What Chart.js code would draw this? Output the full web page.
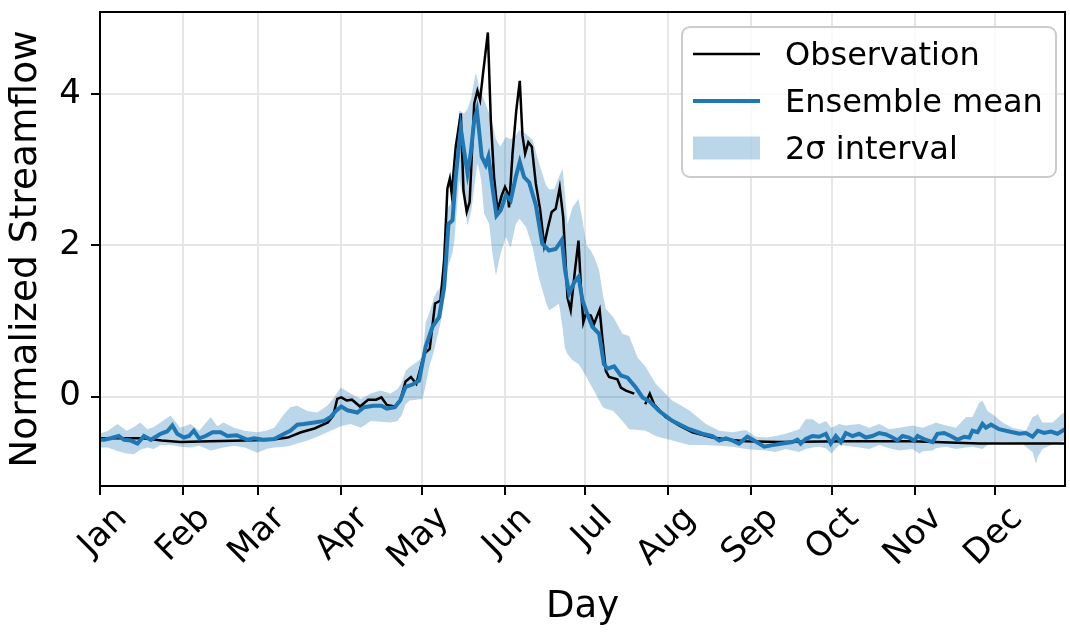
<!DOCTYPE html>
<html>
<head>
<meta charset="utf-8">
<script src="https://cdn.jsdelivr.net/npm/chart.js@4.4.1/dist/chart.umd.min.js"></script>
<style>
  html, body { margin: 0; padding: 0; background: #fff; }
</style>
</head>
<body>
<canvas id="flowChart" width="1070" height="632"></canvas>
<script>
// month ticks (day of year where each month starts)
const monthStarts = [0, 31, 59, 90, 120, 151, 181, 212, 243, 273, 304, 334];
const monthLabels = ["Jan", "Feb", "Mar", "Apr", "May", "Jun", "Jul", "Aug", "Sep", "Oct", "Nov", "Dec"];
const yTicks = [0, 2, 4];
const legendLabels = ["Observation", "Ensemble mean", "2σ interval"];

// observed streamflow (null = missing day)
const obsDay = [
  0, 10, 16, 23, 30, 41, 54, 64, 70, 75,
  80, 85, 87, 88.5, 90, 92, 94, 97, 100, 103,
  105, 107, 110, 112, 114, 116, 118, 121, 123, 125,
  127, 128.4, 129.6, 130.5, 131.2, 132.7, 134.6, 135.6, 136.8, 137.9,
  139.6, 140.8, 141.8, 142.9, 144.7, 145.8, 147, 148.3, 149.9, 151.1,
  152, 152.6, 153.9, 155.3, 156.6, 157.6, 158.6, 159.8, 161.1, 162.6,
  164.2, 165.7, 166.9, 168.5, 170, 171.5, 172.8, 174.4, 175.6, 177.2,
  178.5, 179.4, 180.3, 181.2, 183.1, 184.3, 186.4, 187.4, 188.7, 189.9,
  193, 194.3, 196.2, 199.3, 201, 203.4, 205.1, 206.7, 211, 216,
  221, 228.5, 234.7, 241, 253, 278, 303, 328, 360
];
const obsVal = [
  -0.55, -0.55, -0.55, -0.58, -0.60, -0.59, -0.58, -0.57, -0.54, -0.47,
  -0.42, -0.34, -0.25, -0.03, -0.01, -0.05, -0.04, -0.13, -0.04, -0.04,
  -0.01, -0.11, -0.13, -0.05, 0.20, 0.26, 0.17, 0.57, 0.63, 1.23,
  1.27, 1.80, 2.75, 2.88, 2.68, 3.30, 3.74, 2.72, 2.44, 2.57,
  3.87, 4.04, 3.92, 4.27, 4.81, 3.65, 2.90, 2.46, 2.66, 2.77,
  2.70, 2.50, 3.21, 3.78, 4.17, 3.45, 3.21, 3.36, 3.30, 2.81,
  2.47, 2.00, 2.20, 2.44, 2.48, 2.76, 2.37, 1.31, 1.14, 1.67,
  2.06, 1.45, 0.98, 1.09, 1.07, 0.96, 1.15, 0.78, 0.34, 0.26,
  0.23, 0.12, 0.08, 0.04, null, -0.10, 0.04, -0.10, -0.27, -0.38,
  -0.47, -0.54, -0.57, -0.59, -0.60, -0.59, -0.59, -0.62, -0.62
];

// ensemble mean
const meanDay = [
  0, 1.5, 4, 7, 9, 11.5, 14, 16.4, 19, 22.6,
  25, 27, 28.8, 31.3, 33.2, 35, 37, 39.4, 42, 45,
  47.5, 51, 55, 57.5, 61, 65, 68.7, 71, 73.6, 76,
  80, 83.6, 86, 88, 90, 92.3, 96, 98.5, 102, 105,
  107, 110, 112, 114, 116.6, 119, 121.5, 124, 126.5, 128.4,
  130, 131.5, 132.7, 134.6, 135.8, 137.1, 138.3, 139.6, 140.6, 141.4,
  142.4, 143.9, 144.9, 146.4, 147.9, 149.5, 151.4, 153.2, 155.1, 156.6,
  158.2, 160.1, 162.6, 165, 167.5, 170, 172.3, 173.5, 175, 176.9,
  178.5, 180, 181.8, 183.7, 186.2, 188, 189.3, 191.8, 194.3, 196.8,
  199.9, 202.4, 204.9, 208.6, 213.5, 219.8, 224.7, 228.5, 231, 233.5,
  236, 238.4, 241.5, 244, 247.8, 250.9, 254.6, 258.3, 260.2, 261.4,
  263.3, 265.8, 268.3, 270.8, 272.6, 274.5, 276.4, 278.2, 280.7, 283.2,
  285.7, 288.1, 290.7, 293.2, 295.6, 297.5, 299.4, 301.8, 303.7, 305,
  307.4, 310.6, 312.4, 314.9, 317.4, 319.9, 322.4, 324.3, 325.5, 327.4,
  329.2, 330.5, 332.4, 335.4, 339.2, 342.9, 345.4, 347.9, 349.8, 352.2,
  354.7, 357.2, 360
];
const meanVal = [
  -0.57, -0.57, -0.55, -0.52, -0.57, -0.58, -0.62, -0.52, -0.57, -0.49,
  -0.46, -0.38, -0.49, -0.54, -0.52, -0.45, -0.55, -0.52, -0.47, -0.47,
  -0.52, -0.51, -0.57, -0.55, -0.57, -0.56, -0.49, -0.45, -0.37, -0.36,
  -0.34, -0.32, -0.27, -0.19, -0.13, -0.18, -0.21, -0.14, -0.12, -0.12,
  -0.16, -0.14, -0.05, 0.13, 0.16, 0.21, 0.66, 0.92, 1.05, 1.45,
  2.28, 2.33, 2.90, 3.54, 3.25, 2.95, 3.21, 3.65, 3.78, 3.52,
  3.17, 3.06, 3.17, 2.77, 2.39, 2.46, 2.66, 2.59, 2.90, 3.10,
  2.90, 2.83, 2.53, 2.02, 1.93, 1.95, 2.07, 1.67, 1.36, 1.51,
  1.58, 1.27, 1.09, 0.92, 0.83, 0.43, 0.37, 0.40, 0.28, 0.25,
  0.12, -0.01, -0.06, -0.19, -0.32, -0.43, -0.49, -0.52, -0.58, -0.55,
  -0.58, -0.62, -0.53, -0.58, -0.66, -0.64, -0.62, -0.60, -0.57, -0.62,
  -0.56, -0.52, -0.53, -0.49, -0.62, -0.52, -0.60, -0.48, -0.52, -0.49,
  -0.54, -0.52, -0.48, -0.50, -0.54, -0.58, -0.52, -0.54, -0.58, -0.52,
  -0.56, -0.60, -0.49, -0.48, -0.52, -0.57, -0.53, -0.54, -0.45, -0.47,
  -0.36, -0.41, -0.37, -0.43, -0.46, -0.49, -0.48, -0.53, -0.45, -0.48,
  -0.46, -0.49, -0.43
];

// 2 sigma band
const bandDay = [
  0, 3, 6.5, 10, 12.7, 15, 17.7, 20, 22.6, 26.3,
  30, 33.8, 37, 41.3, 43.8, 46, 50, 54, 58.7, 62,
  65, 68.7, 71, 73.6, 77.4, 81, 84.8, 87.3, 89.8, 93.5,
  97.3, 101, 104.7, 108.4, 111, 112.5, 114, 115.5, 118, 120.3,
  121.5, 122.8, 124.6, 125.5, 127.2, 129, 129.8, 131.5, 132.2, 134,
  135.8, 137.1, 138.5, 140.1, 140.8, 141.4, 142.2, 143.3, 145.2, 146.4,
  147.7, 149.3, 151.4, 153.2, 155.1, 156.5, 158.9, 161.4, 163.5, 166.3,
  167.5, 169.4, 171.2, 172.6, 173.4, 174.4, 176.3, 178.5, 180, 181.5,
  183.1, 184.3, 186.2, 187.6, 188.7, 191.5, 194.9, 197.4, 200.5, 203.6,
  207.3, 213.5, 219.8, 226, 231, 236, 241, 244.6, 248.4, 252.1,
  255.8, 260.8, 263.3, 265.8, 268.3, 270.8, 272.8, 275.8, 278.2, 283.2,
  287, 290.7, 294.4, 298.2, 303.1, 305.6, 306.9, 310.6, 311.8, 315.6,
  319.3, 323.1, 325.5, 328, 329.2, 331.1, 333.6, 336.7, 340.4, 344.1,
  345.4, 347.9, 349.2, 349.8, 351.6, 355.4, 358.5, 360
];
const bandUpper = [
  -0.49, -0.45, -0.36, -0.45, -0.40, -0.34, -0.43, -0.40, -0.34, -0.25,
  -0.41, -0.36, -0.45, -0.27, -0.39, -0.34, -0.41, -0.45, -0.47, -0.45,
  -0.41, -0.23, -0.14, -0.12, -0.19, -0.21, -0.12, -0.01, 0.12, 0.04,
  -0.03, 0.04, 0.08, 0.04, 0.10, 0.18, 0.34, 0.39, 0.45, 0.52,
  0.98, 1.10, 1.31, 1.38, 1.45, 2.46, 2.50, 2.57, 3.00, 3.78,
  3.74, 3.80, 3.95, 4.27, 4.20, 4.09, 4.00, 3.92, 3.74, 3.60,
  3.40, 3.30, 3.43, 3.40, 3.45, 3.52, 3.47, 3.39, 3.12, 2.80,
  2.74, 2.74, 2.90, 3.01, 2.70, 2.28, 2.50, 2.61, 2.33, 2.00,
  1.93, 1.85, 1.67, 1.35, 1.16, 1.05, 0.83, 0.80, 0.52, 0.39,
  0.17, -0.05, -0.18, -0.36, -0.45, -0.47, -0.44, -0.53, -0.54, -0.52,
  -0.49, -0.43, -0.30, -0.30, -0.36, -0.32, -0.41, -0.36, -0.38, -0.36,
  -0.41, -0.36, -0.43, -0.41, -0.38, -0.40, -0.41, -0.36, -0.34, -0.38,
  -0.41, -0.27, -0.27, -0.08, -0.05, -0.19, -0.25, -0.34, -0.41, -0.44,
  -0.45, -0.27, -0.25, -0.23, -0.34, -0.34, -0.24, -0.20
];
const bandLower = [
  -0.67, -0.67, -0.72, -0.75, -0.76, -0.70, -0.67, -0.69, -0.64, -0.64,
  -0.66, -0.67, -0.65, -0.71, -0.69, -0.67, -0.65, -0.67, -0.74, -0.69,
  -0.67, -0.66, -0.65, -0.62, -0.58, -0.53, -0.47, -0.43, -0.39, -0.36,
  -0.41, -0.32, -0.33, -0.34, -0.32, -0.25, -0.10, -0.05, -0.04, -0.03,
  0.15, 0.39, 0.60, 0.74, 1.00, 1.40, 1.71, 1.90, 2.06, 2.86,
  2.59, 2.26, 2.45, 2.90, 3.08, 3.00, 2.86, 2.42, 2.28, 1.89,
  1.60, 1.87, 2.11, 1.97, 2.28, 2.35, 2.24, 1.97, 1.60, 1.25,
  1.14, 1.18, 1.23, 0.90, 0.65, 0.56, 0.48, 0.43, 0.35, 0.26,
  0.15, 0.08, -0.05, -0.14, -0.16, -0.19, -0.32, -0.43, -0.44, -0.45,
  -0.52, -0.58, -0.64, -0.64, -0.65, -0.66, -0.69, -0.70, -0.71, -0.73,
  -0.69, -0.73, -0.69, -0.67, -0.66, -0.68, -0.75, -0.64, -0.65, -0.67,
  -0.69, -0.64, -0.68, -0.71, -0.69, -0.75, -0.72, -0.71, -0.68, -0.66,
  -0.69, -0.67, -0.66, -0.68, -0.69, -0.64, -0.62, -0.60, -0.61, -0.62,
  -0.66, -0.73, -0.89, -0.80, -0.69, -0.63, -0.60, -0.58
];

const blue = "#1f77b4";
const bandFill = "rgba(31, 119, 180, 0.3)";

function toPoints(xs, ys) {
  return xs.map((x, i) => ({ x: x, y: ys[i] }));
}

Chart.defaults.font.family = '"DejaVu Sans", sans-serif';
Chart.defaults.color = "#000";

// matplotlib-like full frame around the axes
const frame = {
  id: "frame",
  afterDatasetsDraw(chart) {
    const { ctx, chartArea: a } = chart;
    ctx.save();
    ctx.strokeStyle = "#000";
    ctx.lineWidth = 2;
    ctx.strokeRect(a.left, a.top, a.right - a.left, a.bottom - a.top);
    ctx.restore();
  },
};

// legend box in the upper right corner of the plot
const boxLegend = {
  id: "boxLegend",
  afterDraw(chart) {
    const { ctx, chartArea: a } = chart;
    const w = 374, h = 150, r = 8;
    const x = a.right - 9 - w;
    const y = a.top + 15;
    ctx.save();
    ctx.beginPath();
    ctx.moveTo(x + r, y);
    ctx.lineTo(x + w - r, y);
    ctx.arcTo(x + w, y, x + w, y + r, r);
    ctx.lineTo(x + w, y + h - r);
    ctx.arcTo(x + w, y + h, x + w - r, y + h, r);
    ctx.lineTo(x + r, y + h);
    ctx.arcTo(x, y + h, x, y + h - r, r);
    ctx.lineTo(x, y + r);
    ctx.arcTo(x, y, x + r, y, r);
    ctx.closePath();
    ctx.fillStyle = "rgba(255,255,255,0.8)";
    ctx.fill();
    ctx.strokeStyle = "#cccccc";
    ctx.lineWidth = 2;
    ctx.stroke();

    const rows = [y + 27, y + 74, y + 121];
    const x0 = x + 11, x1 = x + 78;
    ctx.lineCap = "butt";
    ctx.strokeStyle = "#000";
    ctx.lineWidth = 2.5;
    ctx.beginPath();
    ctx.moveTo(x0, rows[0]);
    ctx.lineTo(x1, rows[0]);
    ctx.stroke();
    ctx.strokeStyle = blue;
    ctx.lineWidth = 4;
    ctx.beginPath();
    ctx.moveTo(x0, rows[1]);
    ctx.lineTo(x1, rows[1]);
    ctx.stroke();
    ctx.fillStyle = bandFill;
    ctx.fillRect(x0, rows[2] - 11.5, x1 - x0, 23);

    ctx.fillStyle = "#000";
    ctx.font = '32px "DejaVu Sans"';
    ctx.textBaseline = "middle";
    ctx.textAlign = "left";
    for (let i = 0; i < legendLabels.length; i++) {
      ctx.fillText(legendLabels[i], x + 103, rows[i] + 3);
    }
    ctx.restore();
  },
};

const ctx = document.getElementById("flowChart");
new Chart(ctx, {
  type: "line",
  data: {
    datasets: [
      {
        label: legendLabels[1],
        data: toPoints(meanDay, meanVal),
        borderColor: blue,
        borderWidth: 4,
        pointRadius: 0,
        fill: false,
      },
      {
        label: legendLabels[0],
        data: toPoints(obsDay, obsVal),
        borderColor: "#000",
        borderWidth: 2.5,
        pointRadius: 0,
        fill: false,
      },
      {
        label: "upper",
        data: toPoints(bandDay, bandUpper),
        borderWidth: 0,
        borderColor: "rgba(0,0,0,0)",
        pointRadius: 0,
        fill: false,
      },
      {
        label: legendLabels[2],
        data: toPoints(bandDay, bandLower),
        borderWidth: 0,
        borderColor: "rgba(0,0,0,0)",
        backgroundColor: bandFill,
        pointRadius: 0,
        fill: "-1",
      },
    ],
  },
  options: {
    responsive: false,
    animation: false,
    layout: { padding: { left: 0, right: 5, top: 12, bottom: 0 } },
    plugins: {
      legend: { display: false },
      tooltip: { enabled: false },
    },
    scales: {
      x: {
        type: "linear",
        min: 0,
        max: 360,
        afterBuildTicks: (scale) => {
          scale.ticks = monthStarts.map((v) => ({ value: v }));
        },
        afterFit: (scale) => {
          scale.height = 146;
          scale.paddingLeft = 0;
          scale.paddingRight = 0;
        },
        ticks: {
          autoSkip: false,
          minRotation: 45,
          maxRotation: 45,
          labelOffset: 22,
          padding: 4,
          font: { size: 34 },
          callback: (value) => monthLabels[monthStarts.indexOf(value)],
        },
        grid: {
          color: "#e6e6e6",
          lineWidth: 2,
          tickColor: "#000",
          tickLength: 9,
          tickWidth: 2,
        },
        border: { display: true, color: "#000", width: 2 },
        title: {
          display: true,
          text: "Day",
          font: { size: 37 },
          padding: { top: 0, bottom: 2 },
        },
      },
      y: {
        min: -1.18,
        max: 5.08,
        afterBuildTicks: (scale) => {
          scale.ticks = yTicks.map((v) => ({ value: v }));
        },
        afterFit: (scale) => {
          scale.width = 100;
          scale.paddingTop = 0;
          scale.paddingBottom = 0;
        },
        ticks: {
          padding: 10,
          font: { size: 34 },
        },
        grid: {
          color: "#e6e6e6",
          lineWidth: 2,
          tickColor: "#000",
          tickLength: 9,
          tickWidth: 2,
        },
        border: { display: true, color: "#000", width: 2 },
        title: {
          display: true,
          text: "Normalized Streamflow",
          font: { size: 37.5 },
          padding: { top: 4, bottom: 0 },
        },
      },
    },
  },
  plugins: [frame, boxLegend],
});
</script>
</body>
</html>
